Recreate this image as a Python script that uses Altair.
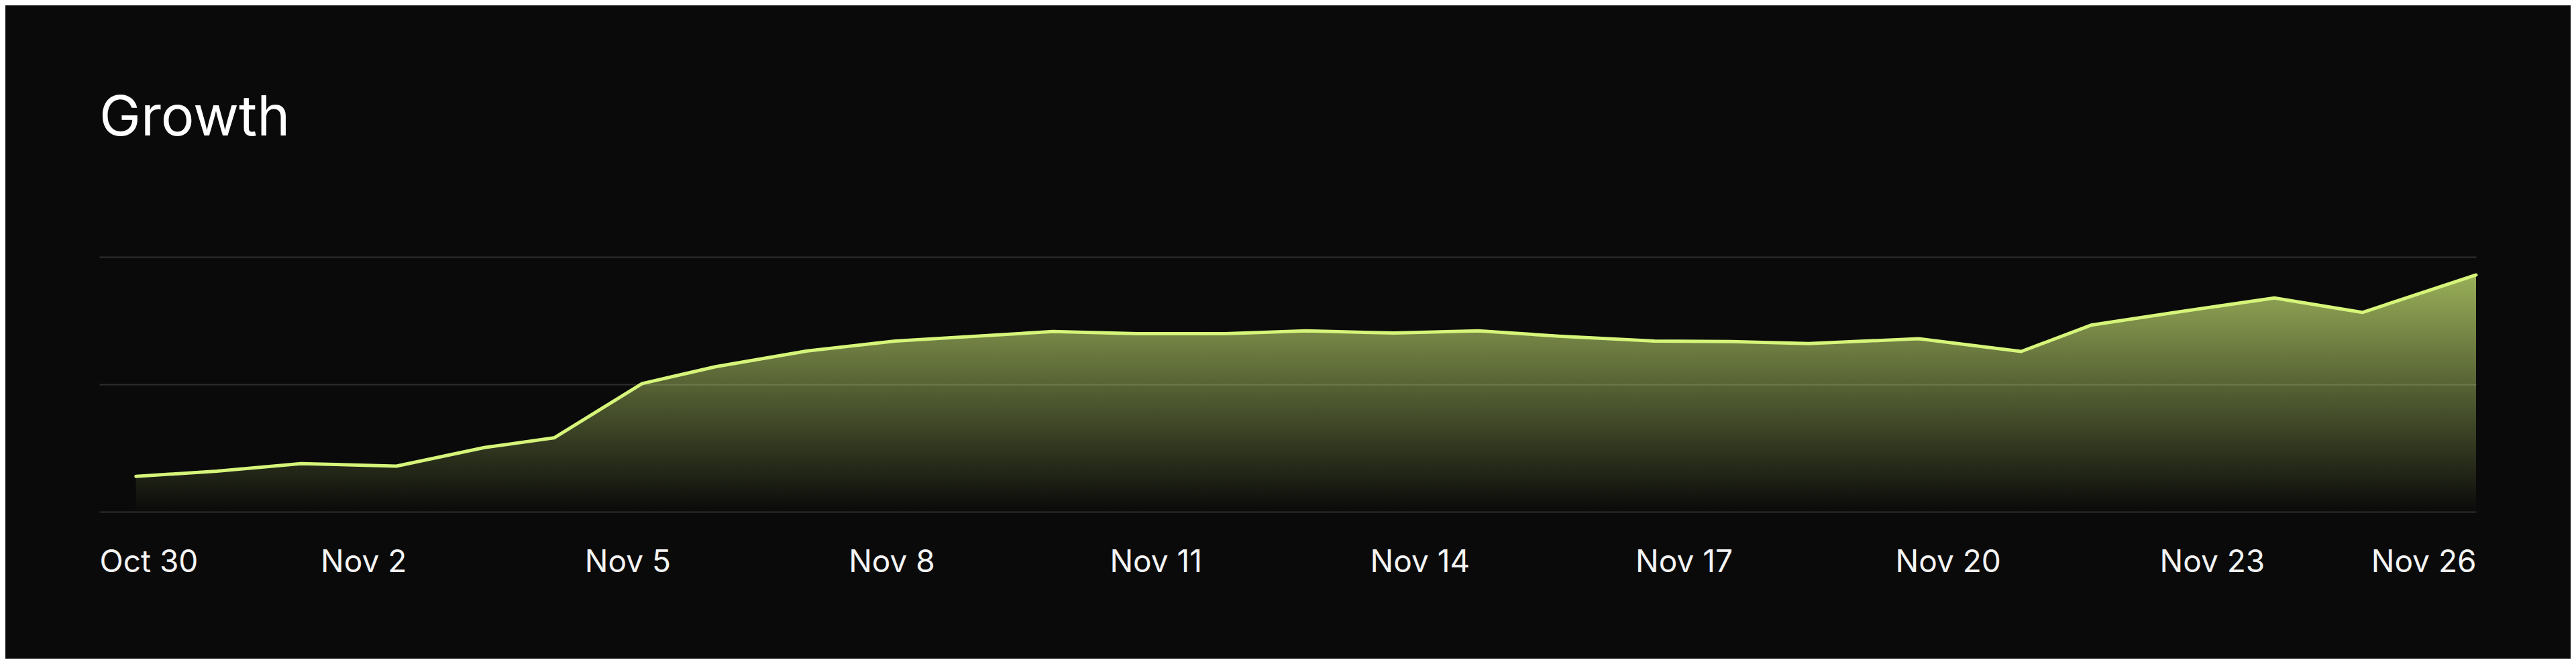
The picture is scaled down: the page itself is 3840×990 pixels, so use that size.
import altair as alt
import pandas as pd

# Sample times (UTC) and values (0 = baseline, 100 = top gridline)
times = [
    "2024-10-30T10:00:00Z", "2024-10-31T08:00:00Z", "2024-11-01T07:00:00Z",
    "2024-11-02T09:00:00Z", "2024-11-03T09:00:00Z", "2024-11-04T04:00:00Z",
    "2024-11-05T04:00:00Z", "2024-11-06T00:00:00Z", "2024-11-07T01:00:00Z",
    "2024-11-08T01:00:00Z", "2024-11-09T20:00:00Z", "2024-11-10T19:00:00Z",
    "2024-11-11T19:00:00Z", "2024-11-12T17:00:00Z", "2024-11-13T17:00:00Z",
    "2024-11-14T16:00:00Z", "2024-11-15T14:00:00Z", "2024-11-16T16:00:00Z",
    "2024-11-17T13:00:00Z", "2024-11-18T10:00:00Z", "2024-11-19T16:00:00Z",
    "2024-11-20T20:00:00Z", "2024-11-21T15:00:00Z", "2024-11-22T14:00:00Z",
    "2024-11-23T17:00:00Z", "2024-11-24T17:00:00Z", "2024-11-26T00:00:00Z",
]
values = [
    13.9, 15.9, 18.9, 17.9, 25.2, 29.0, 50.3, 56.9, 63.1, 67.0,
    70.7, 69.9, 69.9, 71.0, 70.1, 71.0, 68.9, 67.0, 66.8, 66.0,
    67.9, 62.9, 73.2, 78.2, 83.9, 78.2, 92.9,
]
tick_days = [(10, 30), (11, 2), (11, 5), (11, 8), (11, 11), (11, 14),
             (11, 17), (11, 20), (11, 23), (11, 26)]
grid_values = [0, 50, 100]

df = pd.DataFrame({"t": times, "v": values})

LIME = "#d6f57a"
FONT = "Inter"

x_enc = alt.X(
    "t:T",
    title=None,
    scale=alt.Scale(
        type="utc",
        domain=[alt.DateTime(year=2024, month=10, date=30, utc=True),
                alt.DateTime(year=2024, month=11, date=26, utc=True)],
    ),
    axis=alt.Axis(
        values=[alt.DateTime(year=2024, month=m, date=d, utc=True) for m, d in tick_days],
        format="%b %-d",
        labelFlush=True,
        grid=False,
        domain=False,
        ticks=False,
        labelPadding=53,
        labelFontSize=46,
        labelColor="#f4f4f4",
        labelFont=FONT,
        labelBaseline="top",
        labelOverlap=False,
    ),
)
y_enc = alt.Y(
    "v:Q",
    title=None,
    scale=alt.Scale(domain=[0, 100], nice=False, zero=True),
    axis=alt.Axis(
        values=grid_values,
        labels=False,
        ticks=False,
        domain=False,
        grid=True,
        gridColor="#2e2e2e",
        gridWidth=2,
    ),
)

base = alt.Chart(df).encode(x=x_enc, y=y_enc)

area = base.mark_area(
    color=alt.Gradient(
        gradient="linear",
        stops=[
            alt.GradientStop(color="rgba(214,245,122,0.70)", offset=0),
            alt.GradientStop(color="rgba(214,245,122,0.0)", offset=1),
        ],
        x1=0, x2=0, y1=0, y2=1,
    )
)
line = base.mark_line(color=LIME, strokeWidth=5, strokeCap="round", strokeJoin="round")

chart = (
    alt.layer(area, line)
    .properties(
        width=3543,
        height=380,
        title=alt.Title(
            "Growth",
            anchor="start",
            frame="group",
            baseline="alphabetic",
            offset=98,
            fontSize=83,
            fontWeight="normal",
            color="#ffffff",
            font=FONT,
        ),
        padding={"left": 140, "top": 375, "right": 141, "bottom": 219},
        autosize=alt.AutoSizeParams(type="none"),
    )
    .configure(background="#0a0a0a")
    .configure_view(stroke=None)
)

chart.save("out.html", embed_options={"renderer": "svg", "actions": False})
